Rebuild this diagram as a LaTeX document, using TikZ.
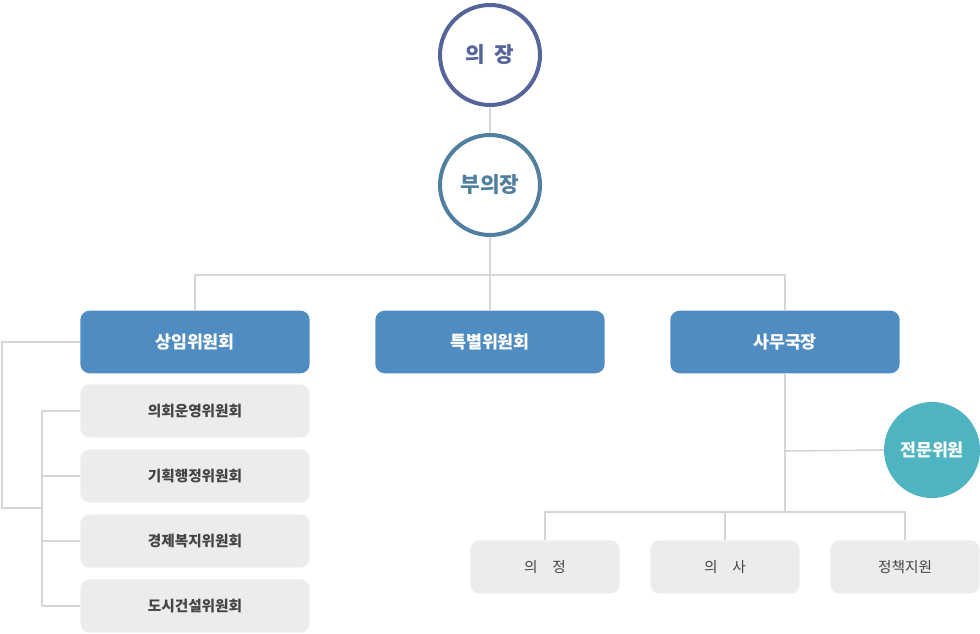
\documentclass[tikz,border=0pt]{standalone}
\usepackage{fontspec}
\setmainfont{Noto Sans CJK KR}
\usepackage{tikz}
\usetikzlibrary{positioning}
\definecolor{chairblue}{HTML}{56649A}
\definecolor{vicblue}{HTML}{507F9F}
\definecolor{boxblue}{HTML}{4F8CC1}
\definecolor{boxgray}{HTML}{ECECEC}
\definecolor{linegray}{HTML}{D6D6D6}
\definecolor{txtgray}{HTML}{444444}
\definecolor{expteal}{HTML}{4FB4C1}
\tikzset{
  chief/.style={circle,draw,line width=3pt,fill=white,minimum size=75pt,inner sep=0pt,font=\bfseries\fontsize{16}{16}\selectfont},
  mainbox/.style={rectangle,rounded corners=7pt,fill=boxblue,text=white,minimum width=172pt,minimum height=47pt,font=\bfseries\fontsize{13}{13}\selectfont},
  subbox/.style={rectangle,rounded corners=7pt,fill=boxgray,text=txtgray,minimum width=172pt,minimum height=40pt,font=\bfseries\fontsize{11}{11}\selectfont},
  lowbox/.style={rectangle,rounded corners=7pt,fill=boxgray,text=txtgray,minimum width=112pt,minimum height=40pt,font=\fontsize{11}{11}\selectfont},
  link/.style={draw=linegray,line width=1.2pt}
}
\begin{document}
\begin{tikzpicture}[x=0.75pt,y=-0.75pt]
  \useasboundingbox (0,0) rectangle (980,634);
  % top circles
  \node[chief,draw=chairblue,text=chairblue] (chair) at (490,55) {의\ \ 장};
  \node[chief,draw=vicblue,text=vicblue] (vice) at (490,185) {부의장};
  \draw[link] (chair) -- (vice);
  % committees
  \node[mainbox] (standing) at (195,342) {상임위원회};
  \node[mainbox] (special) at (490,342) {특별위원회};
  \node[mainbox] (office) at (785,342) {사무국장};
  \coordinate (hub) at (490,275);
  \draw[link] (vice) -- (hub);
  \draw[link] (standing.north) |- (hub) -| (office.north);
  \draw[link] (hub) -- (special.north);
  % standing committees
  \foreach \name/\y [count=\k] in {의회운영위원회/411,기획행정위원회/476,경제복지위원회/541,도시건설위원회/606}
  {
    \node[subbox] (sub\k) at (195,\y) {\name};
    \draw[link] (42,\y) -- (sub\k.west);
  }
  \draw[link] (42,411) -- (42,606);
  \draw[link] (standing.west) -- (2,342) |- (42,508);
  % office
  \node[circle,fill=expteal,text=white,minimum size=72pt,inner sep=0pt,font=\bfseries\fontsize{13}{13}\selectfont] (expert) at (932,450) {전문위원};
  \coordinate (split) at (785,512);
  \draw[link] (office.south) -- (split);
  \draw[link] (785,451) -- (expert.west);
  \node[lowbox] (agenda) at (545,567) {의\quad 정};
  \node[lowbox] (affairs) at (725,567) {의\quad 사};
  \node[lowbox] (policy) at (905,567) {정책지원};
  \draw[link] (agenda.north) |- (split) -| (policy.north);
  \draw[link] (affairs.north) -- (725,512);
\end{tikzpicture}
\end{document}
